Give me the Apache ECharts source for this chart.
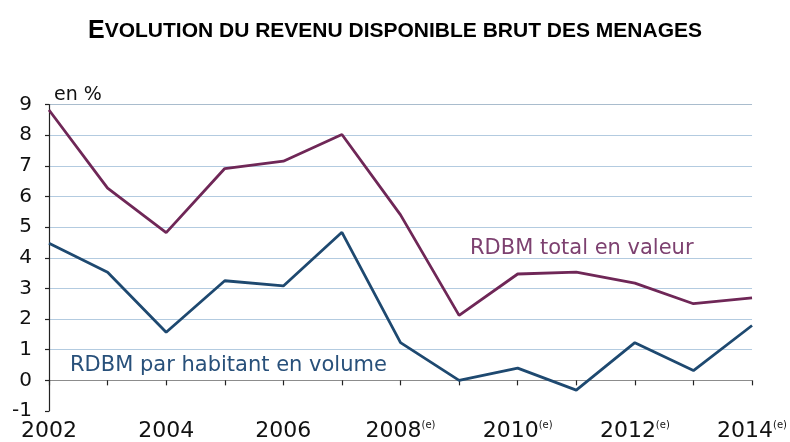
<!DOCTYPE html>
<html>
<head>
<meta charset="utf-8">
<script src="https://cdn.jsdelivr.net/npm/echarts@6/dist/echarts.min.js"></script>
<style>
  html, body { margin: 0; padding: 0; background: #fff; }
  #chart { width: 790px; height: 442px; }
</style>
</head>
<body>
<div id="chart"></div>
<script>
	var years = ['2002', '2003', '2004', '2005', '2006', '2007', '2008', '2009', '2010', '2011', '2012', '2013', '2014'];
	var estimated = ['2008', '2010', '2012', '2014'];
	var totalValeur = [8.82, 6.27, 4.82, 6.91, 7.15, 8.02, 5.4, 2.12, 3.47, 3.53, 3.17, 2.5, 2.69];
	var parHabitant = [4.47, 3.53, 1.57, 3.25, 3.08, 4.83, 1.23, 0.0, 0.4, -0.32, 1.23, 0.32, 1.79];

	var purple = '#6f2757';
	var blue = '#1e4970';
	var gridBlue = '#b3cbe0';

	var chart = echarts.init(document.getElementById('chart'));

	var option = {
		animation: false,
		title: {
			left: 'center',
			top: 14,
			text: '{big|E}{rest|VOLUTION DU REVENU DISPONIBLE BRUT DES MENAGES}',
			textStyle: {
				rich: {
					big: { fontFamily: 'Liberation Sans', fontWeight: 'bold', fontSize: 25, color: '#000' },
					rest: { fontFamily: 'Liberation Sans', fontWeight: 'bold', fontSize: 21, color: '#000' }
				}
			}
		},
		grid: { left: 49, right: 35, top: 104.5, bottom: 25, containLabel: false },
		xAxis: {
			type: 'category',
			data: years,
			boundaryGap: false,
			axisLine: { show: false },
			axisTick: { show: true, interval: 0, length: 5, lineStyle: { color: '#222', width: 1.2 } },
			axisLabel: {
				interval: 1,
				margin: 9,
				fontFamily: 'DejaVu Sans',
				fontSize: 22,
				color: '#111',
				formatter: function (v) {
					return estimated.indexOf(v) >= 0 ? v + '{sup|(e)}' : v;
				},
				rich: {
					sup: { fontFamily: 'DejaVu Sans', fontSize: 10, verticalAlign: 'top', padding: [0, 0, 12, 0], color: '#111' }
				}
			},
			splitLine: { show: false }
		},
		yAxis: {
			type: 'value',
			min: -1,
			max: 9,
			interval: 1,
			axisLine: { show: true, lineStyle: { color: '#222', width: 1.2 } },
			axisTick: { show: true, length: 4, lineStyle: { color: '#222', width: 1.2 } },
			axisLabel: { margin: 17, fontFamily: 'DejaVu Sans', fontSize: 20, color: '#111' },
			// -1 has no line, 0 is grey, the rest light blue
			splitLine: {
				show: true,
				lineStyle: {
					color: ['rgba(0,0,0,0)', '#8c8c8c', gridBlue, gridBlue, gridBlue, gridBlue, gridBlue, gridBlue, gridBlue, gridBlue, '#a9bccd'],
					width: 1.2
				}
			}
		},
		graphic: [
			{ type: 'text', left: 54, top: 86, style: { text: 'en %', font: '19px "DejaVu Sans"', fill: '#111' } },
			{ type: 'text', left: 470, top: 238, style: { text: 'RDBM total en valeur', font: '21px "DejaVu Sans"', fill: '#7d4170' } },
			{ type: 'text', left: 70, top: 355, style: { text: 'RDBM par habitant en volume', font: '21px "DejaVu Sans"', fill: '#28507a' } }
		],
		series: [
			{
				name: 'RDBM total en valeur',
				type: 'line',
				data: totalValeur,
				symbol: 'none',
				lineStyle: { color: purple, width: 2.8 },
				z: 3
			},
			{
				name: 'RDBM par habitant en volume',
				type: 'line',
				data: parHabitant,
				symbol: 'none',
				lineStyle: { color: blue, width: 2.8 },
				z: 3
			}
		]
	};

	chart.setOption(option);
</script>
</body>
</html>
